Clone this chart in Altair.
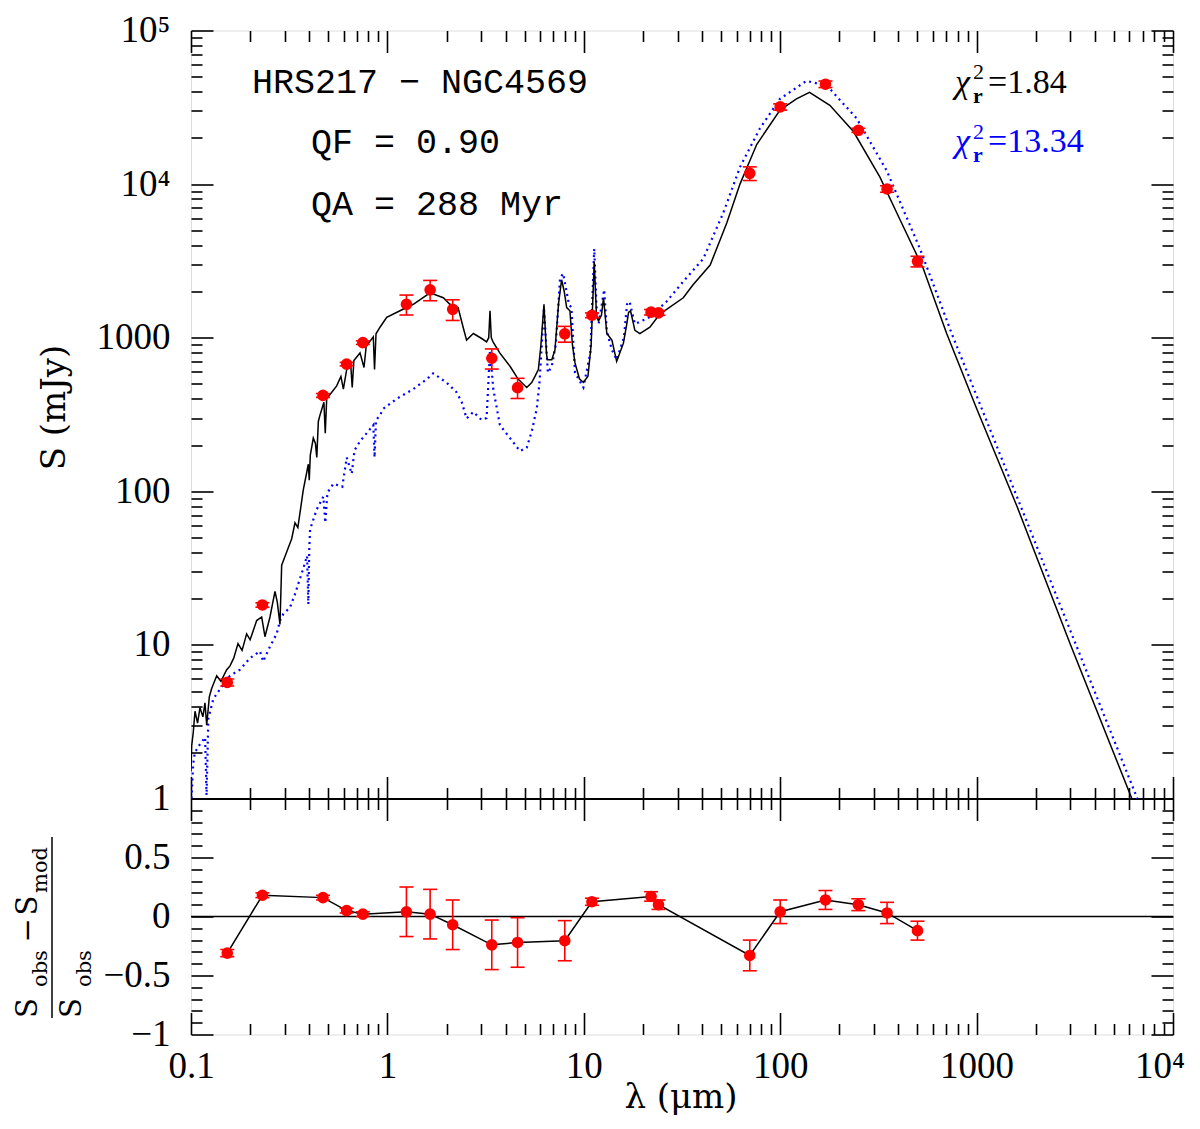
import altair as alt
import pandas as pd

# ---------------- observed photometry ----------------
band_lam = [0.153, 0.231, 0.47, 0.62, 0.75, 1.25, 1.65, 2.15, 3.4, 4.6,
            8.0, 11.0, 22.0, 24.0, 70.0, 100.0, 170.0, 250.0, 350.0, 500.0]
band_flux = [5.7, 18.2, 421, 673, 929, 1650, 2050, 1530, 735, 473,
             1060, 1400, 1466, 1450, 11750, 31800, 44700, 22400, 9300, 3140]
band_err = [0.3, 0.6, 12, 18, 25, 245, 310, 235, 110, 71,
            125, 50, 60, 50, 1200, 1500, 2200, 700, 450, 250]
resid_val = [-0.31, 0.18, 0.16, 0.05, 0.02, 0.04, 0.02, -0.07, -0.24, -0.22,
             -0.205, 0.125, 0.17, 0.10, -0.33, 0.04, 0.14, 0.10, 0.03, -0.12]
resid_err = [0.03, 0.02, 0.02, 0.02, 0.02, 0.21, 0.21, 0.21, 0.21, 0.21,
             0.17, 0.03, 0.04, 0.04, 0.13, 0.10, 0.08, 0.05, 0.09, 0.08]

# ---------------- best-fit model (black, solid) ----------------
best_lam = [0.1000, 0.1008, 0.1027, 0.1048, 0.1080, 0.1111, 0.1150, 0.1178, 0.1202, 0.1240,
            0.1274, 0.1352, 0.1420, 0.1520, 0.1580, 0.1650, 0.1735, 0.1820, 0.1920, 0.2000,
            0.2160, 0.2290, 0.2380, 0.2524, 0.2677, 0.2750, 0.2838, 0.2895, 0.3070, 0.3256,
            0.3384, 0.3500, 0.3730, 0.3957, 0.4000, 0.4050, 0.4195, 0.4300, 0.4370, 0.4450,
            0.4536, 0.4750, 0.4826, 0.4908, 0.5518, 0.5800, 0.5967, 0.6206, 0.6500, 0.6619,
            0.6750, 0.7254, 0.7600, 0.7800, 0.8475, 0.8600, 0.8750, 0.9170, 0.9917, 1.159,
            1.355, 1.648, 1.926, 2.080, 2.290, 2.430, 2.530, 2.740, 3.020, 3.200,
            3.280, 3.330, 3.380, 3.450, 3.740, 4.210, 4.640, 5.120, 5.430, 5.650,
            5.870, 6.050, 6.270, 6.450, 6.520, 6.870, 7.130, 7.450, 7.710, 7.950,
            8.180, 8.500, 8.750, 9.020, 9.500, 9.950, 10.50, 10.90, 11.30, 11.60,
            11.90, 12.30, 12.60, 13.10, 13.90, 14.70, 15.90, 16.50, 16.90, 17.30,
            18.20, 19.30, 21.70, 24.40, 32.10, 36.00, 44.00, 53.50, 62.40, 75.90,
            99.80, 121.0, 141.0, 179.0, 236.0, 322.0, 407.0, 535.0, 704.0, 1000.0,
            1607.0, 3000.0, 6170.0]
best_flux = [1.5, 2.2, 2.7, 3.7, 3.1, 3.9, 3.4, 4.2, 3.0, 4.6,
             5.2, 6.3, 5.8, 6.9, 7.3, 8.2, 10.2, 9.2, 11.8, 10.8,
             14.4, 15.2, 11.3, 15.2, 22.3, 19.0, 13.6, 33.0, 40.2, 49.1,
             62.4, 58.0, 102, 150, 118, 172, 222, 205, 166, 285,
             313, 380, 239, 400, 486, 560, 463, 621, 680, 474,
             710, 796, 640, 880, 1012, 621, 1060, 1170, 1357, 1497,
             1650, 1960, 1820, 1650, 1570, 1170, 964, 1064, 988, 940,
             1000, 1497, 1000, 940, 793, 652, 536, 474, 511, 562,
             621, 900, 1650, 800, 719, 719, 832, 1700, 2383, 2000,
             1570, 1497, 900, 685, 540, 511, 562, 900, 3120, 1400,
             1292, 1400, 1820, 1064, 964, 701, 918, 1200, 1460, 1497,
             1116, 1064, 1170, 1426, 1820, 2213, 2970, 5600, 10000, 18100,
             30300, 35900, 39600, 32600, 22000, 11100, 5880, 2820, 1064, 346,
             79.6, 10.1, 1.0]

# ---------------- alternative model (blue, dotted) ----------------
alt_lam = [0.1005, 0.1027, 0.1047, 0.1110, 0.1180, 0.1200, 0.1225, 0.1299, 0.1405, 0.1579,
           0.1776, 0.1996, 0.2245, 0.2330, 0.2524, 0.2730, 0.2840, 0.2950, 0.3190, 0.3380,
           0.3730, 0.3900, 0.3957, 0.4000, 0.4040, 0.4360, 0.4720, 0.4826, 0.4950, 0.5310,
           0.5890, 0.6210, 0.6580, 0.6800, 0.7260, 0.8480, 0.8600, 0.8750, 0.9160, 0.9530,
           1.115, 1.355, 1.585, 1.710, 2.000, 2.250, 2.390, 2.530, 2.740, 3.020,
           3.200, 3.330, 3.460, 3.740, 4.210, 4.730, 5.120, 5.430, 5.760, 5.950,
           6.270, 6.560, 6.870, 7.200, 7.570, 7.850, 8.400, 8.650, 9.020, 9.950,
           10.80, 11.30, 11.60, 11.90, 12.70, 13.10, 13.90, 14.70, 16.00, 16.60,
           17.10, 18.20, 19.30, 21.70, 26.40, 32.10, 40.60, 51.30, 62.40, 78.90,
           99.80, 136.0, 173.0, 245.0, 349.0, 515.0, 747.0, 1000.0, 3000.0, 6580.0]
alt_flux = [1.0, 1.7, 2.0, 2.25, 2.5, 1.05, 3.3, 4.45, 5.15, 6.3,
            6.9, 8.2, 9.1, 7.8, 9.75, 11.8, 14.4, 15.9, 17.5, 21.3,
            31.5, 38.0, 18.4, 42.0, 56.6, 75.9, 92.3, 62.4, 98.0, 112,
            107, 166, 130, 185, 212, 270, 166, 290, 313, 345,
            400, 463, 536, 586, 511, 441, 381, 298, 329, 291,
            300, 832, 463, 270, 222, 183, 192, 245, 345, 511,
            1570, 591, 652, 900, 2440, 2620, 1650, 1570, 591, 474,
            800, 3790, 1600, 1230, 2056, 1100, 832, 719, 1000, 1650,
            1720, 1230, 1270, 1363, 1720, 2323, 3270, 6490, 12900, 23100,
            35900, 47000, 43700, 26800, 12200, 3790, 1064, 419, 12.4, 1.0]

# ---------------- texts ----------------
name_text = "HRS217 \u2212 NGC4569"
qf_text = "QF = 0.90"
qa_text = "QA = 288 Myr"
chi_best_text = "=1.84"
chi_alt_text = "=13.34"
ytitle_text = "S  (mJy)"
xtitle_text = "\u03bb  (\u03bcm)"
last_xlabel = "10\u2074"

# ---------------- layout / style ----------------
W, H1, H2 = 982, 768, 236
HT = H1 + H2
SERIF = "Liberation Serif"
DSERIF = "DejaVu Serif"
MONO = "Liberation Mono"
BLUE = "#0000ff"
RED = "#ff0000"
LABEL_PAD_X = 14

x_major = [0.1, 1, 10, 100, 1000, 10000]
x_minor = [round(m * 10.0 ** e, 6) for e in range(-1, 4) for m in range(2, 10)]
y_major = [1, 10, 100, 1000, 10000, 100000]
y_minor = [round(m * 10.0 ** e, 6) for e in range(0, 5) for m in range(2, 10)]
r_major = [-1, -0.5, 0, 0.5, 1]
r_minor = [round(v / 10, 1) for v in range(-9, 10) if v % 5 != 0]

X_EXPR = ("datum.value < 0.5 ? '0.1' : datum.value < 5 ? '1' : datum.value < 50 ? '10' : "
          "datum.value < 500 ? '100' : datum.value < 5000 ? '1000' : ''")
Y_EXPR = ("datum.value < 5 ? '1' : datum.value < 50 ? '10' : datum.value < 500 ? '100' : "
          "datum.value < 5000 ? '1000' : datum.value < 50000 ? '10\u2074' : '10\u2075'")
R_EXPR = ("datum.value < -0.75 ? '\u22121' : datum.value < -0.25 ? '\u22120.5' : "
          "datum.value < 0.25 ? '0' : '0.5'")

xs = alt.Scale(type="log", domain=[0.1, 10000], nice=False)
ys_top = alt.Scale(type="log", domain=[1, 100000], nice=False, range=[H1, 0])
ys_bot = alt.Scale(type="linear", domain=[-1, 1], nice=False, zero=False, range=[HT, H1])


def tick_axis(orient, offset, values, size, domain=False):
    return alt.Axis(orient=orient, offset=offset, values=values, labels=False, ticks=True,
                    tickSize=size, tickWidth=1.6, tickColor="black", domain=domain,
                    domainColor="black", domainWidth=2, grid=False, title=None)


def label_axis(orient, values, expr, pad):
    return alt.Axis(orient=orient, values=values, labelExpr=expr, labels=True, ticks=False,
                    tickSize=0, domain=False, grid=False, title=None, labelPadding=pad,
                    labelFlush=False, labelFont=SERIF, labelFontSize=37, labelColor="black",
                    labelOverlap=False)


def X(ax, field="lam"):
    return alt.X(f"{field}:Q", scale=xs, axis=ax)


def YT(field, ax):
    return alt.Y(f"{field}:Q", scale=ys_top, axis=ax)


def YB(field, ax):
    return alt.Y(f"{field}:Q", scale=ys_bot, axis=ax)


obs = pd.DataFrame({"lam": band_lam, "S": band_flux,
                    "lo": [f - e for f, e in zip(band_flux, band_err)],
                    "hi": [f + e for f, e in zip(band_flux, band_err)]})
caps = pd.DataFrame({"lam": band_lam + band_lam, "S": list(obs["lo"]) + list(obs["hi"])})
best = pd.DataFrame({"lam": best_lam, "S": best_flux})
altm = pd.DataFrame({"lam": alt_lam, "S": alt_flux})
res = pd.DataFrame({"lam": band_lam, "r": resid_val,
                    "lo": [v - e for v, e in zip(resid_val, resid_err)],
                    "hi": [v + e for v, e in zip(resid_val, resid_err)]})
rcaps = pd.DataFrame({"lam": band_lam + band_lam, "r": list(res["lo"]) + list(res["hi"])})
zero = pd.DataFrame({"x0": [0.1], "x1": [10000.0], "y": [0.0]})
one = pd.DataFrame({"k": [0]})

# ---- top panel ----
L1 = alt.Chart(altm).mark_line(color=BLUE, strokeWidth=2.2, strokeDash=[2, 4], clip=True).encode(
    x=X(tick_axis("top", -H1, x_major, 22, domain=True)),
    y=YT("S", label_axis("left", y_major, Y_EXPR, 21)))
L2 = alt.Chart(best).mark_line(color="black", strokeWidth=1.5, clip=True).encode(
    x=X(tick_axis("top", -H1, x_minor, 11)),
    y=YT("S", tick_axis("right", -W, y_major, 22)))
L3 = alt.Chart(obs).mark_rule(color=RED, strokeWidth=1.6).encode(
    x=X(tick_axis("bottom", -HT, x_major, 22)),
    y=YT("lo", tick_axis("right", -W, y_minor, 11)), y2="hi:Q")
L4 = alt.Chart(caps).mark_tick(color=RED, orient="horizontal", size=14, thickness=1.6,
                               opacity=1).encode(
    x=X(tick_axis("bottom", -HT, x_minor, 11)),
    y=YT("S", tick_axis("left", -W, y_major, 22)))
L5 = alt.Chart(obs).mark_circle(color=RED, size=135, opacity=1).encode(
    x=X(None), y=YT("S", tick_axis("left", -W, y_minor, 11)))

# ---- residual panel ----
B1 = alt.Chart(zero).mark_rule(color="black", strokeWidth=1.3).encode(
    x=X(label_axis("bottom", x_major, X_EXPR, LABEL_PAD_X), "x0"), x2="x1:Q",
    y=YB("y", label_axis("left", [-1, -0.5, 0, 0.5], R_EXPR, 21)))
B2 = alt.Chart(res).mark_line(color="black", strokeWidth=1.5).encode(
    x=X(tick_axis("top", -HT, x_major, 22)),
    y=YB("r", tick_axis("right", -W, r_major, 22)))
B3 = alt.Chart(res).mark_rule(color=RED, strokeWidth=1.6).encode(
    x=X(tick_axis("top", -HT, x_minor, 11)),
    y=YB("lo", tick_axis("right", -W, r_minor, 11)), y2="hi:Q")
B4 = alt.Chart(rcaps).mark_tick(color=RED, orient="horizontal", size=14, thickness=1.6,
                                opacity=1).encode(
    x=X(tick_axis("bottom", -H2, x_major, 22)),
    y=YB("r", tick_axis("left", -W, r_major, 22)))
B5 = alt.Chart(res).mark_circle(color=RED, size=135, opacity=1).encode(
    x=X(tick_axis("bottom", -H2, x_minor, 11)),
    y=YB("r", tick_axis("left", -W, r_minor, 11)))


def txt(s, x, y, size, font=SERIF, color="black", angle=0, align="left",
        baseline="alphabetic", style="normal", weight="normal"):
    return alt.Chart(one).mark_text(text=s, font=font, fontSize=size, color=color, angle=angle,
                                    align=align, baseline=baseline, fontStyle=style,
                                    fontWeight=weight).encode(x=alt.value(x), y=alt.value(y))


texts = [
    txt(name_text, 61, 62.1, 35, font=MONO),
    txt(qf_text, 120, 122.8, 35, font=MONO),
    txt(qa_text, 120, 184.4, 35, font=MONO),
    # chi^2 best
    txt("\u03c7", 764, 62.1, 34, style="italic"),
    txt("2", 782, 48.3, 22),
    txt("r", 782, 72.3, 22, weight="bold"),
    txt(chi_best_text, 797, 62.1, 34),
    # chi^2 alt
    txt("\u03c7", 764, 121.8, 34, color=BLUE, style="italic"),
    txt("2", 782, 108, 22, color=BLUE),
    txt("r", 782, 131.8, 22, color=BLUE, weight="bold"),
    txt(chi_alt_text, 797, 121.8, 34, color=BLUE),
    # last x tick label (kept inside the page, as in the reference)
    txt(last_xlabel, 969, HT + LABEL_PAD_X, 37, align="center", baseline="top"),
    # axis titles
    txt(ytitle_text, -126, 377, 34, font=DSERIF, angle=270, align="center"),
    txt(xtitle_text, 490, 1067.5, 34, font=DSERIF, align="center", baseline="middle"),
    # residual fraction title
    txt("S", -154, 987.5, 29, font=DSERIF, angle=270),
    txt("obs", -144, 956.5, 21, font=DSERIF, angle=270),
    txt("\u2212", -154, 912, 29, font=DSERIF, angle=270),
    txt("S", -154, 885, 29, font=DSERIF, angle=270),
    txt("mod", -144, 862.5, 21, font=DSERIF, angle=270),
    txt("S", -110, 987.5, 29, font=DSERIF, angle=270),
    txt("obs", -100, 956.5, 21, font=DSERIF, angle=270),
    alt.Chart(one).mark_rule(color="black", strokeWidth=1.5).encode(
        x=alt.value(-139), y=alt.value(806.5), y2=alt.value(987.5)),
]

chart = (
    alt.layer(L1, L2, L3, L4, L5, B1, B2, B3, B4, B5, *texts)
    .resolve_scale(y="independent")
    .resolve_axis(x="independent", y="independent")
    .properties(width=W, height=HT,
                autosize=alt.AutoSizeParams(type="none"),
                padding={"left": 183, "top": 22.5, "right": 18, "bottom": 83})
    .configure_view(stroke="black", strokeWidth=2)
    .configure(background="white")
)

chart.save("out.html", embed_options={"renderer": "svg", "actions": False})
